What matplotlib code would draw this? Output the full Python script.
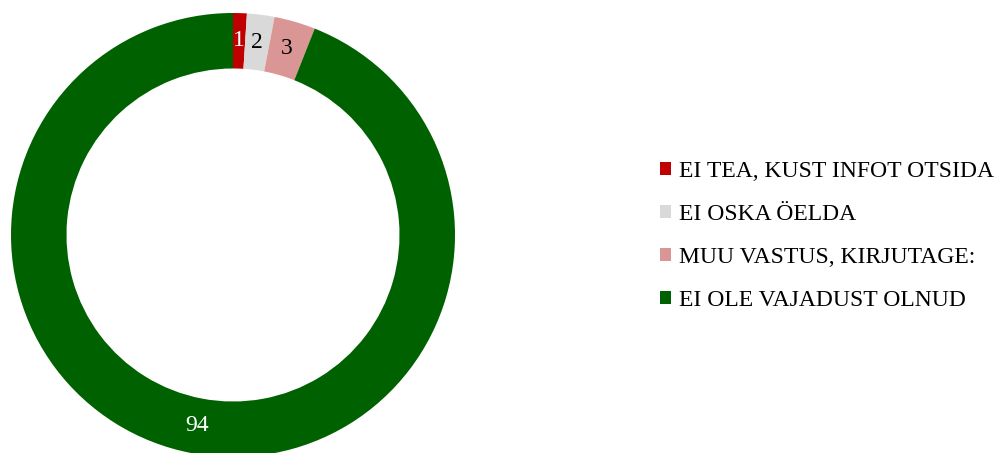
import matplotlib as mpl
mpl.use('Agg')
import matplotlib.pyplot as plt
from matplotlib.patches import Patch

plt.rcParams['font.family'] = ['Liberation Serif', 'DejaVu Serif']

labels = ['EI TEA, KUST INFOT OTSIDA', 'EI OSKA ÖELDA',
          'MUU VASTUS, KIRJUTAGE:', 'EI OLE VAJADUST OLNUD']
values = [1, 2, 3, 94]
colors = ['#C00000', '#D9D9D9', '#DA9694', '#006100']
text_colors = ['white', 'black', 'black', 'white']

W, H = 1003, 453
fig = plt.figure(figsize=(W/100, H/100), dpi=100)

# donut axes, centre at (233, 235) px from top-left, radius 222 px
cx, cy, R = 233, 235, 222
ax = fig.add_axes([(cx-R)/W, (H-cy-R)/H, 2*R/W, 2*R/H])
wedges, texts = ax.pie(values, colors=colors, startangle=90, counterclock=False,
                       radius=1.0, labels=[str(v) for v in values],
                       labeldistance=0.875,
                       wedgeprops=dict(width=0.25, edgecolor='none'),
                       textprops=dict(fontsize=17))
for t, c in zip(texts, text_colors):
    t.set_color(c)
    t.set_ha('center')
    t.set_va('center')
ax.set_xlim(-1, 1)
ax.set_ylim(-1, 1)
ax.set_aspect('equal')
ax.axis('off')

handles = [Patch(facecolor=c, edgecolor='none') for c in colors]
fig.legend(handles, labels, loc='center left',
           bbox_to_anchor=(639/W, 1 - 236/H), frameon=False,
           fontsize=17, handlelength=0.45, handleheight=0.45,
           handletextpad=0.35, labelspacing=0.93)

fig.savefig('out.png', dpi=100)
